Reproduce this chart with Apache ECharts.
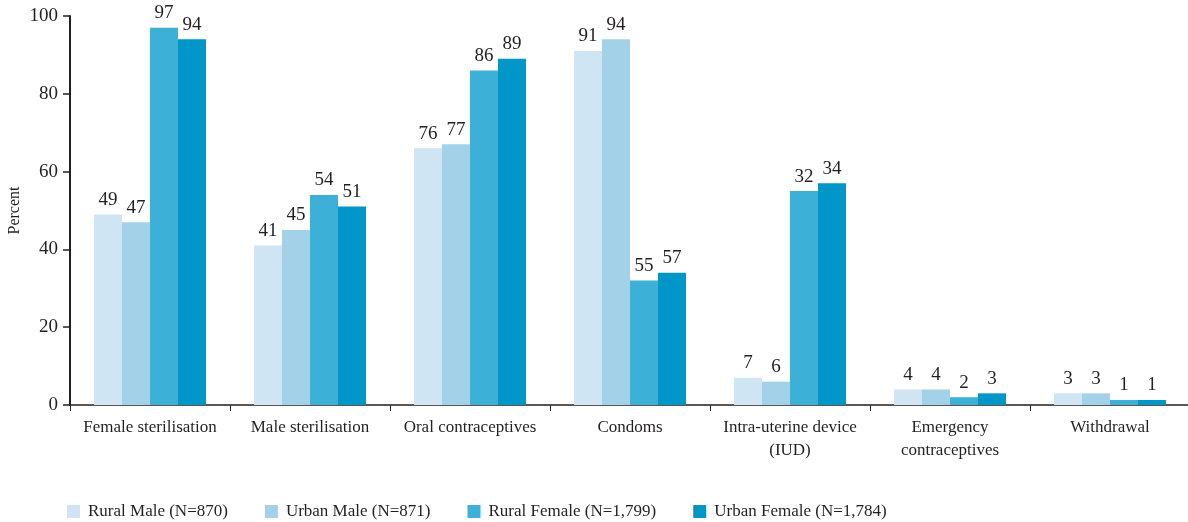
<!DOCTYPE html>
<html>
<head>
<meta charset="utf-8">
<script src="https://cdn.jsdelivr.net/npm/echarts@6/dist/echarts.min.js"></script>
<style>
  html, body { margin: 0; padding: 0; background: #fff; }
  #main { width: 1188px; height: 522px; }
</style>
</head>
<body>
<div id="main"></div>
<script>
// categories
const methods = ['Female sterilisation', 'Male sterilisation', 'Oral contraceptives', 'Condoms',
  'Intra-uterine device\n(IUD)', 'Emergency\ncontraceptives', 'Withdrawal']
const groups = ['Rural Male (N=870)', 'Urban Male (N=871)', 'Rural Female (N=1,799)', 'Urban Female (N=1,784)']

// bar heights as drawn
const ruralMale = [49, 41, 66, 91, 7, 4, 3]
const urbanMale = [47, 45, 67, 94, 6, 4, 3]
const ruralFemale = [97, 54, 86, 32, 55, 2, 1.3]
const urbanFemale = [94, 51, 89, 34, 57, 3, 1.3]

// printed labels (as in the original figure)
const ruralMaleLabels = ['49', '41', '76', '91', '7', '4', '3']
const urbanMaleLabels = ['47', '45', '77', '94', '6', '4', '3']
const ruralFemaleLabels = ['97', '54', '86', '55', '32', '2', '1']
const urbanFemaleLabels = ['94', '51', '89', '57', '34', '3', '1']

const yTicks = [0, 20, 40, 60, 80, 100]

const colors = ['#cfe5f3', '#a2d1e8', '#3db0d8', '#0097c8']
const ink = '#231f20'
const font = '"Liberation Serif", "DejaVu Serif", serif'

function makeSeries (name, values, labels, color) {
  return {
    name: name,
    type: 'bar',
    data: values,
    barWidth: 28,
    barGap: '0%',
    itemStyle: { color: color },
    label: {
      show: true,
      position: 'top',
      distance: 5,
      color: ink,
      fontFamily: font,
      fontSize: 19,
      formatter: p => labels[p.dataIndex]
    }
  }
}

const myChart = echarts.init(document.getElementById('main'))

const option = {
  animation: false,
  textStyle: { fontFamily: font, color: ink },
  grid: { left: 70, top: 16, width: 1120, bottom: 117, containLabel: false, outerBoundsMode: 'none' },
  legend: {
    left: 62,
    top: 498,
    itemWidth: 13,
    itemHeight: 13,
    itemGap: 37,
    icon: 'rect',
    textStyle: { fontFamily: font, fontSize: 17, color: ink, padding: [0, 0, 0, 3] },
    data: groups
  },
  xAxis: {
    type: 'category',
    data: methods,
    axisLine: { lineStyle: { color: ink, width: 1.5 } },
    axisTick: { show: true, length: 6, lineStyle: { color: ink } },
    axisLabel: {
      interval: 0,
      margin: 11,
      color: ink,
      fontFamily: font,
      fontSize: 17,
      lineHeight: 23
    }
  },
  yAxis: {
    type: 'value',
    min: 0,
    max: 100,
    interval: 20,
    name: 'Percent',
    nameLocation: 'middle',
    nameGap: 47,
    nameMoveOverlap: false,
    nameRotate: 90,
    nameTextStyle: { fontFamily: font, fontSize: 16, color: ink },
    axisLine: { show: true, lineStyle: { color: ink, width: 2 } },
    axisTick: { show: true, length: 7, lineStyle: { color: ink, width: 1.5 } },
    splitLine: { show: false },
    axisLabel: {
      margin: 12,
      color: ink,
      fontFamily: font,
      fontSize: 19,
      formatter: v => (yTicks.includes(v) ? String(v) : '')
    }
  },
  series: [
    makeSeries(groups[0], ruralMale, ruralMaleLabels, colors[0]),
    makeSeries(groups[1], urbanMale, urbanMaleLabels, colors[1]),
    makeSeries(groups[2], ruralFemale, ruralFemaleLabels, colors[2]),
    makeSeries(groups[3], urbanFemale, urbanFemaleLabels, colors[3])
  ]
}
myChart.setOption(option)
</script>
</body>
</html>
